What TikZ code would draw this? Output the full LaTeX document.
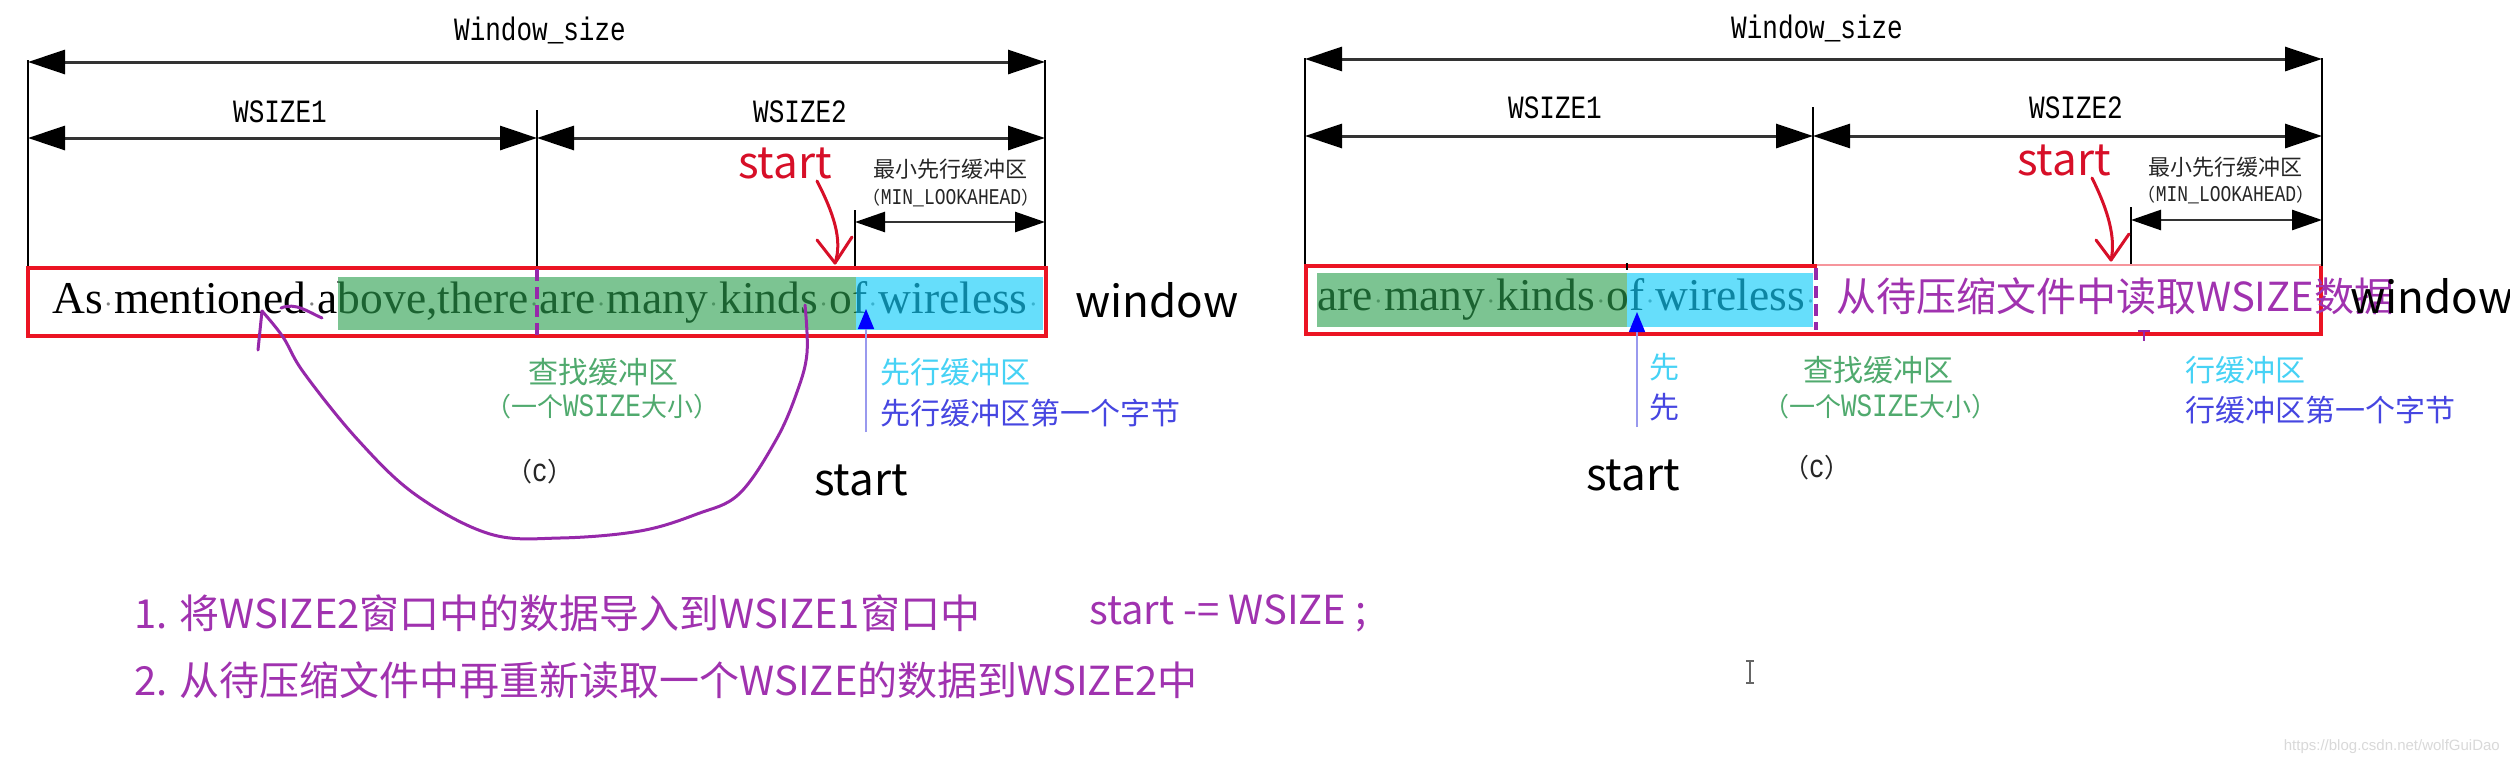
\documentclass[tikz,border=0pt]{standalone}
\usepackage{fontspec}
\usepackage{graphicx}
\newfontfamily\cjk{Noto Sans CJK SC}
\newfontfamily\mono{Liberation Mono}
\newfontfamily\tms{Liberation Serif}
\newfontfamily\wmk{Liberation Sans}
\usetikzlibrary{arrows.meta}
\newcommand\myfs[1]{\fontsize{#1}{#1}\selectfont}
\newcommand\tall[1]{\scalebox{1}[1.25]{#1}}
\newcommand\spdot{\makebox[0.25em]{\color{black!50}\scalebox{0.6}{·}}}
\definecolor{boxred}{RGB}{235,20,35}
\definecolor{fillgreen}{RGB}{45,160,80}
\definecolor{fillcyan}{RGB}{20,205,250}
\definecolor{txtgreen}{RGB}{80,170,110}
\definecolor{txtcyan}{RGB}{70,210,245}
\definecolor{txtblue}{RGB}{70,70,225}
\definecolor{penpurple}{RGB}{150,40,170}
\definecolor{notepurple}{RGB}{160,50,175}
\definecolor{startred}{RGB}{215,15,40}
\tikzset{
  vln/.style={line width=2.6pt, black},
  dimarrow/.style={line width=3pt, draw=black!80, {Triangle[length=37pt,width=24pt,color=black]}-{Triangle[length=37pt,width=24pt,color=black]}},
  dimsmall/.style={line width=2.6pt, draw=black!80, {Triangle[length=30pt,width=20pt,color=black]}-{Triangle[length=30pt,width=20pt,color=black]}},
  monolbl/.style={font=\mono\myfs{26}, inner sep=0pt},
  cjklbl/.style={font=\cjk\myfs{22}, inner sep=0pt, text=black!85},
  minlbl/.style={font=\myfs{18}, inner sep=0pt, text=black!85},
  redstart/.style={font=\cjk\myfs{44}, inner sep=0pt, text=startred},
  blkstart/.style={font=\cjk\myfs{44}, inner sep=0pt, text=black},
  wintxt/.style={font=\cjk\myfs{44}, inner sep=0pt, text=black, anchor=base west},
  boxtxt/.style={font=\tms\myfs{45.5}, inner sep=0pt, anchor=base west},
  greentxt/.style={font=\cjk\myfs{30}, inner sep=0pt, text=txtgreen},
  greensub/.style={font=\myfs{26}, inner sep=0pt, text=txtgreen},
  cyantxt/.style={font=\cjk\myfs{30}, inner sep=0pt, text=txtcyan, anchor=west},
  bluetxt/.style={font=\cjk\myfs{30}, inner sep=0pt, text=txtblue, anchor=west},
  clbl/.style={font=\myfs{26}, inner sep=0pt, text=black!85},
  notetxt/.style={font=\cjk\myfs{40}, inner sep=0pt, text=notepurple, anchor=west},
  greenfill/.style={fill=fillgreen, fill opacity=0.62},
  cyanfill/.style={fill=fillcyan, fill opacity=0.65},
  redarrow/.style={draw=startred, line width=3pt, line cap=round, line join=round},
  pen/.style={draw=penpurple, line width=3pt, line cap=round, line join=round},
  bluearrow/.style={draw=txtblue!55, line width=1.6pt, -{Triangle[length=20pt,width=16pt,color=blue]}},
  purpledash/.style={draw=penpurple, line width=4.5pt, dash pattern=on 12pt off 6pt}
}
\begin{document}
\begin{tikzpicture}[x=1pt,y=-1pt]
\useasboundingbox (0,0) rectangle (2510,764);
\fill[white] (0,0) rectangle (2510,764);

% ================= LEFT PANEL =================
\coordinate (l0t) at (28,60);   \coordinate (l0b) at (28,268);
\coordinate (l3t) at (1045,60); \coordinate (l3b) at (1045,268);
\coordinate (l1t) at (537,110); \coordinate (l1b) at (537,268);
\coordinate (l2t) at (855,210); \coordinate (l2b) at (855,268);
\draw[vln] (l0t) -- (l0b);
\draw[vln] (l3t) -- (l3b);
\draw[vln] (l1t) -- (l1b);
\draw[vln] (l2t) -- (l2b);
\coordinate (lwa) at (28,62);  \coordinate (lwb) at (1045,62);
\coordinate (lsa) at (28,138); \coordinate (lsm) at (537,138); \coordinate (lsb) at (1045,138);
\coordinate (lma) at (855,222); \coordinate (lmb) at (1045,222);
\draw[dimarrow] (lwa) -- (lwb);
\draw[dimarrow] (lsa) -- (lsm);
\draw[dimarrow] (lsm) -- (lsb);
\draw[dimsmall] (lma) -- (lmb);
\node[monolbl] (lwin) at (540,30) {\tall{Window\_size}};
\node[monolbl] (lws1) at (280,112) {\tall{WSIZE1}};
\node[monolbl] (lws2) at (800,112) {\tall{WSIZE2}};
\node[cjklbl] (lmin) at (950,169) {最小先行缓冲区};
\node[minlbl] (lmin2) at (951,198) {{\cjk （}{\mono \tall{MIN\_LOOKAHEAD}}{\cjk ）}};
\node[redstart] (lstart) at (785,163) {start};
\coordinate (lra) at (817,181); \coordinate (lrb) at (835,263);
\draw[redarrow] (lra) .. controls (833,212) and (843,240) .. (lrb);
\draw[redarrow] (817,240) -- (lrb) -- (852,237);

% text in box
\node[boxtxt] (ltext) at (52,313) {As\spdot mentioned\spdot above,there\spdot are\spdot many\spdot kinds\spdot of\spdot wireless\spdot};
\fill[greenfill] (338,277) rectangle (856,330);
\fill[cyanfill] (856,277) rectangle (1043,330);
\draw[boxred, line width=4pt] (28,268) rectangle (1046,336);
\draw[purpledash] (537,269) -- (537,336);
\node[wintxt] (lwindow) at (1075,317) {window};

% blue arrow & labels
\coordinate (lba) at (866,432); \coordinate (lbb) at (866,309);
\draw[bluearrow] (lba) -- (lbb);
\node[greentxt] (lsearch) at (603,372) {查找缓冲区};
\node[greensub] (lsearch2) at (602,407) {{\cjk （一个}{\mono\tall{WSIZE}}{\cjk 大小）}};
\node[cyantxt] (llook) at (880,372) {先行缓冲区};
\node[bluetxt] (lfirst) at (880,413) {先行缓冲区第一个字节};
\node[clbl] (lc) at (540,472) {{\cjk （}{\mono\tall{c}}{\cjk ）}};
\node[blkstart] (lstart2) at (861,480) {start};

% purple hand drawn curve
\draw[pen] plot[smooth, tension=0.6] coordinates {(805,305) (807,353) (797,392) (776,440) (739,494) (697,514) (640,531) (560,538) (490,534) (416,495) (358,440) (304,373) (283,337) (262,311)};
\draw[pen] (262,311) -- (258,350);
\draw[pen] (281,308) .. controls (296,302) and (308,312) .. (322,318);

% ================= RIGHT PANEL =================
\coordinate (r0t) at (1305,58);   \coordinate (r0b) at (1305,266);
\coordinate (r3t) at (2322,58);   \coordinate (r3b) at (2322,266);
\coordinate (r1t) at (1813,107);  \coordinate (r1b) at (1813,266);
\coordinate (r2t) at (2131,207);  \coordinate (r2b) at (2131,266);
\draw[vln] (r0t) -- (r0b);
\draw[vln] (r3t) -- (r3b);
\draw[vln] (r1t) -- (r1b);
\draw[vln] (r2t) -- (r2b);
\coordinate (rwa) at (1305,59);  \coordinate (rwb) at (2322,59);
\coordinate (rsa) at (1305,136); \coordinate (rsm) at (1813,136); \coordinate (rsb) at (2322,136);
\coordinate (rma) at (2131,220); \coordinate (rmb) at (2322,220);
\draw[dimarrow] (rwa) -- (rwb);
\draw[dimarrow] (rsa) -- (rsm);
\draw[dimarrow] (rsm) -- (rsb);
\draw[dimsmall] (rma) -- (rmb);
\node[monolbl] (rwin) at (1817,28) {\tall{Window\_size}};
\node[monolbl] (rws1) at (1555,108) {\tall{WSIZE1}};
\node[monolbl] (rws2) at (2076,108) {\tall{WSIZE2}};
\node[cjklbl] (rmin) at (2225,167) {最小先行缓冲区};
\node[minlbl] (rmin2) at (2226,195) {{\cjk （}{\mono \tall{MIN\_LOOKAHEAD}}{\cjk ）}};
\node[redstart] (rstart) at (2064,160) {start};
\coordinate (rra) at (2092,178); \coordinate (rrb) at (2111,260);
\draw[redarrow] (rra) .. controls (2108,210) and (2116,238) .. (rrb);
\draw[redarrow] (2096,240) -- (rrb) -- (2129,234);

\node[boxtxt] (rtext) at (1317,310) {are\spdot many\spdot kinds\spdot of\spdot wireless\spdot};
\fill[greenfill] (1317,273) rectangle (1627,327);
\fill[cyanfill] (1627,273) rectangle (1813,327);
\draw[boxred!45, line width=1.5pt] (1817,265) -- (2321,265);
\draw[boxred, line width=4pt] (1817,266) -- (1306,266) -- (1306,334) -- (2321,334) -- (2321,266);
\draw[black, line width=2pt] (1627,263) -- (1627,270);
\draw[purpledash] (1816,268) -- (1816,330);
\draw[penpurple, line width=1.5pt] (2144,330) -- (2144,341) (2138,331) -- (2150,331);
\node[notetxt] (rread) at (1836,296) {从待压缩文件中读取WSIZE数据};
\node[wintxt] (rwindow) at (2350,313) {window};

\coordinate (rba) at (1637,427); \coordinate (rbb) at (1637,312);
\draw[bluearrow] (rba) -- (rbb);
\node[greentxt] (rsearch) at (1878,370) {查找缓冲区};
\node[greensub] (rsearch2) at (1880,407) {{\cjk （一个}{\mono\tall{WSIZE}}{\cjk 大小）}};
\node[cyantxt] (rlookA) at (1649,367) {先};
\node[bluetxt] (rfirstA) at (1649,407) {先};
\node[cyantxt] (rlookB) at (2185,370) {行缓冲区};
\node[bluetxt] (rfirstB) at (2185,410) {行缓冲区第一个字节};
\node[clbl] (rc) at (1817,468) {{\cjk （}{\mono\tall{c}}{\cjk ）}};
\node[blkstart] (rstart2) at (1633,475) {start};

% ================= NOTES =================
\node[notetxt] (note1) at (134,613) {1. 将WSIZE2窗口中的数据导入到WSIZE1窗口中};
\node[notetxt] (note1b) at (1089,613) {start -= WSIZE ;};
\node[notetxt] (note2) at (134,680) {2. 从待压缩文件中再重新读取一个WSIZE的数据到WSIZE2中};

% cursor and watermark
\draw[black!60, line width=1.3pt] (1750,661) -- (1750,683) (1746,661) -- (1754,661) (1746,683) -- (1754,683);
\node[font=\wmk\myfs{15}, text=black!15, inner sep=0pt, anchor=east] (wm) at (2500,747) {https://blog.csdn.net/wolfGuiDao};
\end{tikzpicture}
\end{document}
